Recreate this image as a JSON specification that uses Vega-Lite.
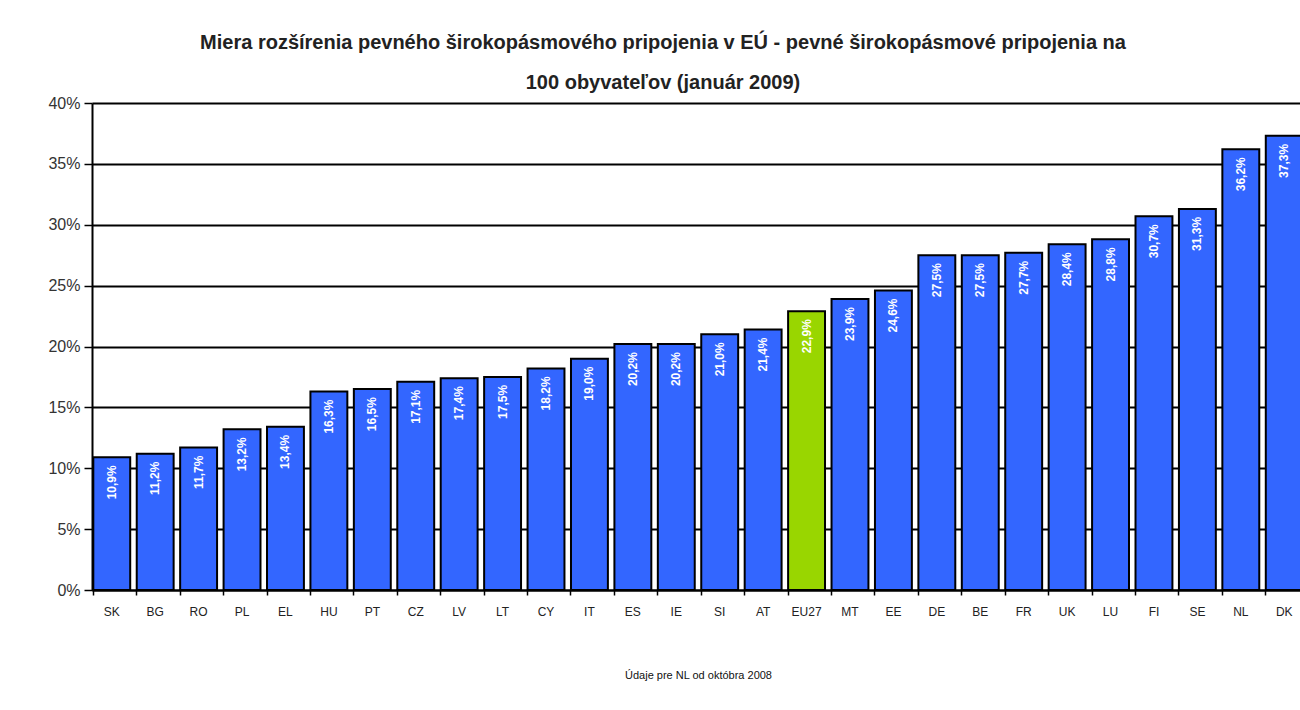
{
  "$schema": "https://vega.github.io/schema/vega-lite/v6.json",
  "width": 1212,
  "height": 487,
  "autosize": {"type": "none"},
  "padding": {"left": 92, "top": 103, "right": 0, "bottom": 120},
  "background": "white",
  "title": {
    "text": ["Miera rozšírenia pevného širokopásmového pripojenia v EÚ - pevné širokopásmové pripojenia na", "100 obyvateľov (január 2009)"],
    "font": "Liberation Sans",
    "fontSize": 20,
    "fontWeight": "bold",
    "color": "#222222",
    "lineHeight": 40,
    "anchor": "middle",
    "dx": -35,
    "offset": 2
  },
  "data": {
    "values": [
      {"country": "SK", "value": 10.9, "label": "10,9%"},
      {"country": "BG", "value": 11.2, "label": "11,2%"},
      {"country": "RO", "value": 11.7, "label": "11,7%"},
      {"country": "PL", "value": 13.2, "label": "13,2%"},
      {"country": "EL", "value": 13.4, "label": "13,4%"},
      {"country": "HU", "value": 16.3, "label": "16,3%"},
      {"country": "PT", "value": 16.5, "label": "16,5%"},
      {"country": "CZ", "value": 17.1, "label": "17,1%"},
      {"country": "LV", "value": 17.4, "label": "17,4%"},
      {"country": "LT", "value": 17.5, "label": "17,5%"},
      {"country": "CY", "value": 18.2, "label": "18,2%"},
      {"country": "IT", "value": 19.0, "label": "19,0%"},
      {"country": "ES", "value": 20.2, "label": "20,2%"},
      {"country": "IE", "value": 20.2, "label": "20,2%"},
      {"country": "SI", "value": 21.0, "label": "21,0%"},
      {"country": "AT", "value": 21.4, "label": "21,4%"},
      {"country": "EU27", "value": 22.9, "label": "22,9%"},
      {"country": "MT", "value": 23.9, "label": "23,9%"},
      {"country": "EE", "value": 24.6, "label": "24,6%"},
      {"country": "DE", "value": 27.5, "label": "27,5%"},
      {"country": "BE", "value": 27.5, "label": "27,5%"},
      {"country": "FR", "value": 27.7, "label": "27,7%"},
      {"country": "UK", "value": 28.4, "label": "28,4%"},
      {"country": "LU", "value": 28.8, "label": "28,8%"},
      {"country": "FI", "value": 30.7, "label": "30,7%"},
      {"country": "SE", "value": 31.3, "label": "31,3%"},
      {"country": "NL", "value": 36.2, "label": "36,2%"},
      {"country": "DK", "value": 37.3, "label": "37,3%"}
    ]
  },
  "encoding": {
    "x": {
      "field": "country",
      "type": "nominal",
      "sort": null,
      "scale": {"paddingInner": 0.15, "paddingOuter": 0.03},
      "axis": {
        "title": "Údaje pre NL od októbra 2008",
        "titleFont": "Liberation Sans",
        "titleFontSize": 11,
        "titleFontWeight": "normal",
        "titleColor": "#111111",
        "titlePadding": 52,
        "titleX": 606,
        "labelAngle": 0,
        "labelFont": "Liberation Sans",
        "labelFontSize": 12,
        "labelColor": "#222222",
        "labelPadding": 11,
        "bandPosition": 0,
        "tickColor": "black",
        "tickSize": 5,
        "tickWidth": 1.5,
        "domainColor": "black",
        "domainWidth": 2,
        "grid": false
      }
    },
    "y": {
      "field": "value",
      "type": "quantitative",
      "scale": {"domain": [0, 40], "nice": false},
      "axis": {
        "title": null,
        "values": [0, 5, 10, 15, 20, 25, 30, 35, 40],
        "labelExpr": "datum.value + '%'",
        "labelFont": "Liberation Sans",
        "labelFontSize": 16,
        "labelColor": "#333333",
        "labelPadding": 4,
        "tickColor": "black",
        "tickSize": 8,
        "tickWidth": 1.5,
        "domainColor": "black",
        "domainWidth": 2,
        "grid": true,
        "gridColor": "black",
        "gridWidth": 2,
        "gridOpacity": 1
      }
    }
  },
  "layer": [
    {
      "mark": {"type": "bar", "stroke": "black", "strokeWidth": 2},
      "encoding": {
        "color": {
          "condition": {"test": "datum.country === 'EU27'", "value": "#99D600"},
          "value": "#3366FF"
        }
      }
    },
    {
      "mark": {
        "type": "text",
        "angle": 270,
        "align": "right",
        "baseline": "middle",
        "dx": -8,
        "color": "white",
        "font": "Liberation Sans",
        "fontWeight": "bold",
        "fontSize": 12
      },
      "encoding": {"text": {"field": "label"}}
    }
  ],
  "config": {"view": {"stroke": null}}
}
